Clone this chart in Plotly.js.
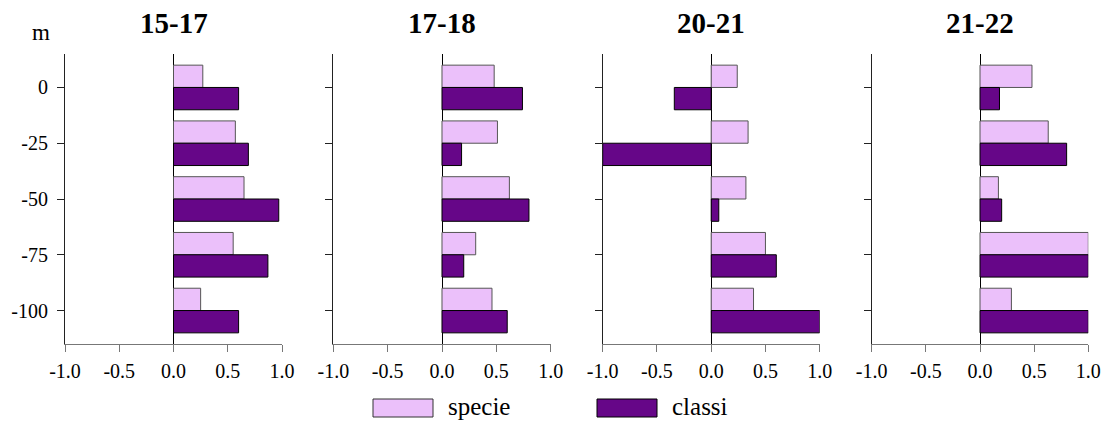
<!DOCTYPE html>
<html>
<head>
<meta charset="utf-8">
<script src="https://cdn.plot.ly/plotly-3.0.1.min.js"></script>
<style>html,body{margin:0;padding:0;background:#fff;}#chart{width:1111px;height:434px;}</style>
</head>
<body>
<div id="chart"></div>
<script>
// ---- data ----
var periods = ["15-17", "17-18", "20-21", "21-22"];
var depths = [0, -25, -50, -75, -100];
var depthLabels = ["0", "-25", "-50", "-75", "-100"];
var xTicks = [-1.0, -0.5, 0.0, 0.5, 1.0];
var xTickLabels = ["-1.0", "-0.5", "0.0", "0.5", "1.0"];
var seriesNames = ["specie", "classi"];

var specie_1517 = [0.27, 0.57, 0.65, 0.55, 0.25];
var classi_1517 = [0.60, 0.69, 0.97, 0.87, 0.60];
var specie_1718 = [0.48, 0.51, 0.62, 0.31, 0.46];
var classi_1718 = [0.74, 0.18, 0.80, 0.20, 0.60];
var specie_2021 = [0.24, 0.34, 0.32, 0.50, 0.39];
var classi_2021 = [-0.34, -1.00, 0.07, 0.60, 1.00];
var specie_2122 = [0.48, 0.63, 0.17, 1.00, 0.29];
var classi_2122 = [0.18, 0.80, 0.20, 1.00, 1.00];

var specieByPanel = [specie_1517, specie_1718, specie_2021, specie_2122];
var classiByPanel = [classi_1517, classi_1718, classi_2021, classi_2122];

// ---- layout geometry (pixels) ----
var W = 1111, H = 434;
var panelPx = [[65, 282], [333.3, 550.7], [602.7, 819.7], [871.7, 1088.3]];
var plotTop = 54, plotBottom = 344;
var FONT = "Liberation Serif";
var SPECIE_COLOR = "#ebc0fa";
var CLASSI_COLOR = "#660688";

function px(x) { return x / W; }
function py(y) { return 1 - y / H; }

var traces = [];
var layout = {
  width: W, height: H,
  margin: {l: 0, r: 0, t: 0, b: 0},
  paper_bgcolor: "#ffffff",
  plot_bgcolor: "#ffffff",
  barmode: "overlay",
  showlegend: false,
  font: {family: FONT, size: 20, color: "#000"},
  annotations: [],
  shapes: []
};

for (var i = 0; i < 4; i++) {
  var sfx = i === 0 ? "" : String(i + 1);
  var xa = "x" + sfx, ya = "y" + sfx;
  traces.push({
    type: "bar", orientation: "h", name: seriesNames[0],
    x: specieByPanel[i], y: depths, xaxis: xa, yaxis: ya,
    width: 10, offset: 0,
    marker: {color: SPECIE_COLOR, line: {color: "#555555", width: 1}},
    hoverinfo: "x+y"
  });
  traces.push({
    type: "bar", orientation: "h", name: seriesNames[1],
    x: classiByPanel[i], y: depths, xaxis: xa, yaxis: ya,
    width: 10, offset: -10,
    marker: {color: CLASSI_COLOR, line: {color: "#000000", width: 1}},
    hoverinfo: "x+y"
  });
  layout["xaxis" + sfx] = {
    domain: [px(panelPx[i][0]), px(panelPx[i][1])],
    anchor: ya,
    range: [-1.0, 1.0],
    tickvals: xTicks,
    ticktext: xTickLabels,
    ticks: "outside", ticklen: 7, tickcolor: "#777777", tickwidth: 1,
    ticklabelstandoff: 2,
    showline: true, linecolor: "#777777", linewidth: 1,
    showgrid: false,
    zeroline: true, zerolinecolor: "#000000", zerolinewidth: 1,
    tickfont: {family: FONT, size: 20, color: "#000"},
    fixedrange: true
  };
  layout["yaxis" + sfx] = {
    domain: [py(plotBottom), py(plotTop)],
    anchor: xa,
    range: [-115, 15],
    tickvals: depths,
    ticktext: depthLabels,
    showticklabels: i === 0,
    ticks: "outside", ticklen: 7, tickcolor: "#222222", tickwidth: 1,
    ticklabelstandoff: 5,
    showline: true, linecolor: "#222222", linewidth: 1,
    showgrid: false, zeroline: false,
    tickfont: {family: FONT, size: 20, color: "#000"},
    fixedrange: true
  };
  layout.annotations.push({
    text: "<b>" + periods[i] + "</b>",
    xref: "paper", yref: "paper",
    x: px((panelPx[i][0] + panelPx[i][1]) / 2), y: py(23),
    xanchor: "center", yanchor: "middle",
    showarrow: false,
    font: {family: FONT, size: 29, color: "#000"}
  });
}

// axis unit label
layout.annotations.push({
  text: "m", xref: "paper", yref: "paper",
  x: px(41), y: py(32), xanchor: "center", yanchor: "middle",
  showarrow: false, font: {family: FONT, size: 23, color: "#000"}
});

// legend (large swatches)
var legendItems = [
  {name: seriesNames[0], color: SPECIE_COLOR, line: "#333333", x0: 373, x1: 433, tx: 446},
  {name: seriesNames[1], color: CLASSI_COLOR, line: "#000000", x0: 597, x1: 657, tx: 670}
];
legendItems.forEach(function (it) {
  layout.shapes.push({
    type: "rect", xref: "paper", yref: "paper",
    x0: px(it.x0), x1: px(it.x1), y0: py(417), y1: py(399),
    fillcolor: it.color, line: {color: it.line, width: 1}
  });
  layout.annotations.push({
    text: it.name, xref: "paper", yref: "paper",
    x: px(it.tx), y: py(406), xanchor: "left", yanchor: "middle",
    showarrow: false, font: {family: FONT, size: 25, color: "#000"}
  });
});

Plotly.newPlot("chart", traces, layout, {displayModeBar: false, staticPlot: true});
</script>
</body>
</html>
